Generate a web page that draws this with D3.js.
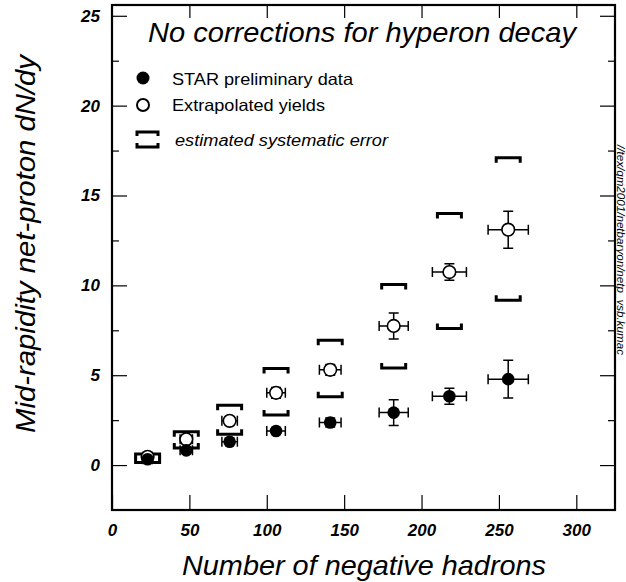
<!DOCTYPE html>
<html>
<head>
<meta charset="utf-8">
<script src="https://cdn.jsdelivr.net/npm/d3@7"></script>
<style>
body{margin:0;background:#fff;}
svg{font-family:"Liberation Sans",Arial,sans-serif;}
</style>
</head>
<body>
<div id="canvas"></div>
<script>
// number of negative hadrons (centrality bins)
var nh      = [23, 48, 76, 106, 141, 182, 218, 256];
var nhErr   = [3, 4, 5, 6, 7, 9.4, 11, 13];
// STAR preliminary net-proton dN/dy
var starY   = [0.32, 0.82, 1.3, 1.9, 2.37, 2.92, 3.83, 4.78];
var starErr = [0.1, 0.1, 0.1, 0.15, 0.25, 0.72, 0.45, 1.05];
// extrapolated yields
var extY    = [0.46, 1.43, 2.46, 4.02, 5.3, 7.74, 10.74, 13.1];
var extErr  = [0.1, 0.1, 0.15, 0.3, 0.3, 0.72, 0.46, 1.03];
// estimated systematic error band (on extrapolated yields)
var sysHigh = [0.62, 1.85, 3.33, 5.37, 6.94, 10.05, 14.0, 17.1];
var sysLow  = [0.15, 0.95, 1.72, 2.78, 3.8, 5.4, 7.6, 9.17];

var xTicks = [0, 50, 100, 150, 200, 250, 300];
var yTicks = [0, 5, 10, 15, 20, 25];
var yMinor = [2.5, 7.5, 12.5, 17.5, 22.5];

var W = 626, H = 582;
var m = {t:5, r:11, b:72, l:112},
    w = W - m.l - m.r,
    h = H - m.t - m.b;

var svg = d3.select('#canvas').append('svg')
    .attr('width', W).attr('height', H);

var plot = svg.append('g')
    .attr('transform', 'translate(' + m.l + ',' + m.t + ')');

var x = d3.scaleLinear().domain([0, 325]).range([0, w]);
var y = d3.scaleLinear().domain([-2.5, 25.6]).range([h, 0]);

// axes, ticks pointing inward
function styleAxis(g){
    g.select('.domain').remove();
    g.selectAll('.tick line').attr('stroke', '#000').attr('stroke-width', 1.2);
}

plot.append('g')
    .attr('transform', 'translate(0,' + h + ')')
    .call(d3.axisBottom(x).tickValues(xTicks).tickSizeInner(-15).tickPadding(14))
    .call(styleAxis)
    .selectAll('text')
    .style('font-size', '17px').style('font-weight', 'bold').style('font-style', 'italic')
    .attr('fill', '#000');

plot.append('g')
    .call(d3.axisTop(x).tickValues(xTicks.slice(1)).tickSize(-13).tickFormat(''))
    .call(styleAxis);

plot.append('g')
    .call(d3.axisLeft(y).tickValues(yTicks).tickSizeInner(-15).tickPadding(12))
    .call(styleAxis)
    .selectAll('text')
    .style('font-size', '17px').style('font-weight', 'bold').style('font-style', 'italic')
    .attr('fill', '#000');

plot.append('g')
    .call(d3.axisLeft(y).tickValues(yMinor).tickSize(-7).tickFormat(''))
    .call(styleAxis);

plot.append('g')
    .attr('transform', 'translate(' + w + ',0)')
    .call(d3.axisRight(y).tickValues(yTicks).tickSize(-15).tickFormat(''))
    .call(styleAxis);

plot.append('g')
    .attr('transform', 'translate(' + w + ',0)')
    .call(d3.axisRight(y).tickValues(yMinor).tickSize(-7).tickFormat(''))
    .call(styleAxis);

// frame
plot.append('rect')
    .attr('width', w).attr('height', h)
    .attr('fill', 'none').attr('stroke', '#000').attr('stroke-width', 2.2);

// systematic brackets
var bw = 12, bh = 5;
function bracket(cx, cy, dir){
    return 'M' + (cx - bw) + ',' + (cy + dir*bh) + 'V' + cy + 'H' + (cx + bw) + 'V' + (cy + dir*bh);
}
plot.selectAll('path.sysHi').data(nh).enter().append('path')
    .attr('class', 'sysHi')
    .attr('d', function(d, i){ return bracket(x(d), y(sysHigh[i]), 1); })
    .attr('fill', 'none').attr('stroke', '#000').attr('stroke-width', 3);
plot.selectAll('path.sysLo').data(nh).enter().append('path')
    .attr('class', 'sysLo')
    .attr('d', function(d, i){ return bracket(x(d), y(sysLow[i]), -1); })
    .attr('fill', 'none').attr('stroke', '#000').attr('stroke-width', 3);

// error bars with caps
var cap = 5;
function errPath(d, i, vals, errs){
    var cx = x(d), cy = y(vals[i]),
        x0 = x(d - nhErr[i]), x1 = x(d + nhErr[i]),
        y0 = y(vals[i] - errs[i]), y1 = y(vals[i] + errs[i]);
    return 'M' + x0 + ',' + cy + 'H' + x1 +
        'M' + x0 + ',' + (cy - cap) + 'V' + (cy + cap) +
        'M' + x1 + ',' + (cy - cap) + 'V' + (cy + cap) +
        'M' + cx + ',' + y0 + 'V' + y1 +
        'M' + (cx - cap) + ',' + y0 + 'H' + (cx + cap) +
        'M' + (cx - cap) + ',' + y1 + 'H' + (cx + cap);
}
plot.selectAll('path.errStar').data(nh).enter().append('path')
    .attr('class', 'errStar')
    .attr('d', function(d, i){ return errPath(d, i, starY, starErr); })
    .attr('fill', 'none').attr('stroke', '#000').attr('stroke-width', 1.5);
plot.selectAll('path.errExt').data(nh).enter().append('path')
    .attr('class', 'errExt')
    .attr('d', function(d, i){ return errPath(d, i, extY, extErr); })
    .attr('fill', 'none').attr('stroke', '#000').attr('stroke-width', 1.5);

// markers
var r = 6.3;
plot.selectAll('circle.ext').data(nh).enter().append('circle')
    .attr('class', 'ext')
    .attr('cx', function(d){ return x(d); })
    .attr('cy', function(d, i){ return y(extY[i]); })
    .attr('r', r).attr('fill', '#fff').attr('stroke', '#000').attr('stroke-width', 1.6);
plot.selectAll('circle.star').data(nh).enter().append('circle')
    .attr('class', 'star')
    .attr('cx', function(d){ return x(d); })
    .attr('cy', function(d, i){ return y(starY[i]); })
    .attr('r', r).attr('fill', '#000');

// title
svg.append('text')
    .attr('x', 148).attr('y', 42)
    .attr('textLength', 428).attr('lengthAdjust', 'spacingAndGlyphs')
    .style('font-size', '28px').style('font-style', 'italic')
    .text('No corrections for hyperon decay');

// legend
svg.append('circle').attr('cx', 143).attr('cy', 78).attr('r', 6.5).attr('fill', '#000');
svg.append('text').attr('x', 172).attr('y', 85)
    .attr('textLength', 181).attr('lengthAdjust', 'spacingAndGlyphs')
    .style('font-size', '16.5px')
    .text('STAR preliminary data');
svg.append('circle').attr('cx', 143).attr('cy', 105).attr('r', 6)
    .attr('fill', '#fff').attr('stroke', '#000').attr('stroke-width', 2);
svg.append('text').attr('x', 172).attr('y', 111)
    .attr('textLength', 153).attr('lengthAdjust', 'spacingAndGlyphs')
    .style('font-size', '16.5px')
    .text('Extrapolated yields');
svg.append('path')
    .attr('d', 'M137,136V132H158V136M137,143V147H158V143')
    .attr('fill', 'none').attr('stroke', '#000').attr('stroke-width', 3);
svg.append('text').attr('x', 175).attr('y', 146)
    .attr('textLength', 213).attr('lengthAdjust', 'spacingAndGlyphs')
    .style('font-size', '16px').style('font-style', 'italic')
    .text('estimated systematic error');

// axis titles
svg.append('text')
    .attr('transform', 'translate(35,244) rotate(-90)')
    .attr('text-anchor', 'middle')
    .attr('textLength', 378).attr('lengthAdjust', 'spacingAndGlyphs')
    .style('font-size', '28px').style('font-style', 'italic')
    .text('Mid-rapidity net-proton dN/dy');
svg.append('text')
    .attr('x', 182).attr('y', 575)
    .attr('textLength', 364).attr('lengthAdjust', 'spacingAndGlyphs')
    .style('font-size', '28px').style('font-style', 'italic')
    .text('Number of negative hadrons');

// file tag on the right
svg.append('text')
    .attr('transform', 'translate(617,145) rotate(90)')
    .attr('textLength', 210).attr('lengthAdjust', 'spacingAndGlyphs')
    .style('font-size', '10.5px').style('font-style', 'italic')
    .text('//tex/qm2001/netbaryon/netp_vsb.kumac');
</script>
</body>
</html>
